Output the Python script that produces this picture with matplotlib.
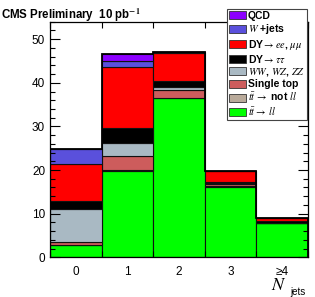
import matplotlib
matplotlib.use("Agg")
import matplotlib.pyplot as plt
import numpy as np
from matplotlib.ticker import MultipleLocator
from matplotlib.patches import Patch

plt.rcParams['font.family'] = ['Liberation Sans', 'DejaVu Sans']
plt.rcParams['mathtext.fontset'] = 'stix'

categories = ["0", "1", "2", "3", "\u22654"]
tt_ll     = [2.8, 19.8, 36.5, 16.2, 7.8]
tt_notll  = [0.1, 0.2, 0.1, 0.05, 0.05]
single_top = [0.7, 3.2, 1.8, 0.55, 0.05]
diboson   = [7.4, 2.9, 0.7, 0.2, 0.05]
dy_tautau = [2.0, 3.6, 1.2, 0.3, 0.35]
dy_eemumu = [8.4, 14.0, 6.6, 2.5, 0.6]
wjets     = [3.4, 1.3, 0.05, 0.0, 0.0]
qcd       = [0.1, 1.6, 0.05, 0.0, 0.0]

series = [
    (tt_ll, '#00ff00', r'$t\bar{t}\rightarrow\ ll$'),
    (tt_notll, '#b9aa9a', r'$t\bar{t}\,\rightarrow$ not $ll$'),
    (single_top, '#cd5c5c', 'Single top'),
    (diboson, '#a9b9c3', r'$WW$, $WZ$, $ZZ$'),
    (dy_tautau, '#000000', r'DY$\rightarrow\tau\tau$'),
    (dy_eemumu, '#ff0000', r'DY$\rightarrow ee$, $\mu\mu$'),
    (wjets, '#5a50dc', r'$W$ +jets'),
    (qcd, '#8c00ff', 'QCD'),
]

fig = plt.figure(figsize=(3.15, 2.97), dpi=100)
ax = fig.add_axes([50/315, 1-257.3/297, 258/315, (257.3-21.7)/297])

x = np.arange(len(categories))
bottom = np.zeros(len(categories))
handles = []
for vals, col, lab in series:
    v = np.array(vals, dtype=float)
    ax.bar(x, v, width=1.0, bottom=bottom, color=col, edgecolor='#111111',
           linewidth=0.8, align='center')
    bottom += v
    handles.append(Patch(facecolor=col, edgecolor='#333333', linewidth=0.6, label=lab))

# outline of total
edges = np.arange(len(categories) + 1) - 0.5
ax.stairs(bottom, edges, color='black', linewidth=1.3, baseline=0)

ax.set_xlim(-0.5, 4.5)
ax.set_ylim(0, 54)

ax.set_xticks(edges)
ax.set_xticklabels([''] * len(edges))
ax.set_xticks(x, minor=True)
ax.set_xticklabels(categories, minor=True, fontsize=8.5)
ax.tick_params(axis='x', which='major', direction='in', length=4, width=0.8,
               top=True, bottom=True)
ax.tick_params(axis='x', which='minor', length=0, pad=6)

ax.yaxis.set_major_locator(MultipleLocator(10))
ax.yaxis.set_minor_locator(MultipleLocator(2))
ax.tick_params(axis='y', which='major', direction='in', length=7, width=0.8,
               left=True, right=True, labelsize=8.5)
ax.tick_params(axis='y', which='minor', direction='in', length=3.5, width=0.8,
               left=True, right=True)
for s in ax.spines.values():
    s.set_linewidth(0.9)

fig.text(0.003, 1-15/297, r'CMS Preliminary  10 pb$^{\mathbf{-1}}$', fontsize=8.3,
         fontweight='bold', ha='left', va='center')

fig.text(279/315, 1-286/297, r'$N$', fontsize=13, ha='center', va='center')
fig.text(298/315, 1-292/297, 'jets', fontsize=7, ha='center', va='center')

leg = fig.legend(handles=handles[::-1], loc='upper left',
                 bbox_to_anchor=(227/315, 1-9/297), fontsize=7.5,
                 frameon=True, fancybox=False, framealpha=1, edgecolor='#444444',
                 handlelength=1.6, handleheight=0.8, handletextpad=0.2,
                 labelspacing=0.12, borderpad=0.2, borderaxespad=0.0)
leg.get_frame().set_linewidth(0.8)
for t in leg.get_texts():
    t.set_fontweight('bold')

fig.savefig('out.png', dpi=100)
